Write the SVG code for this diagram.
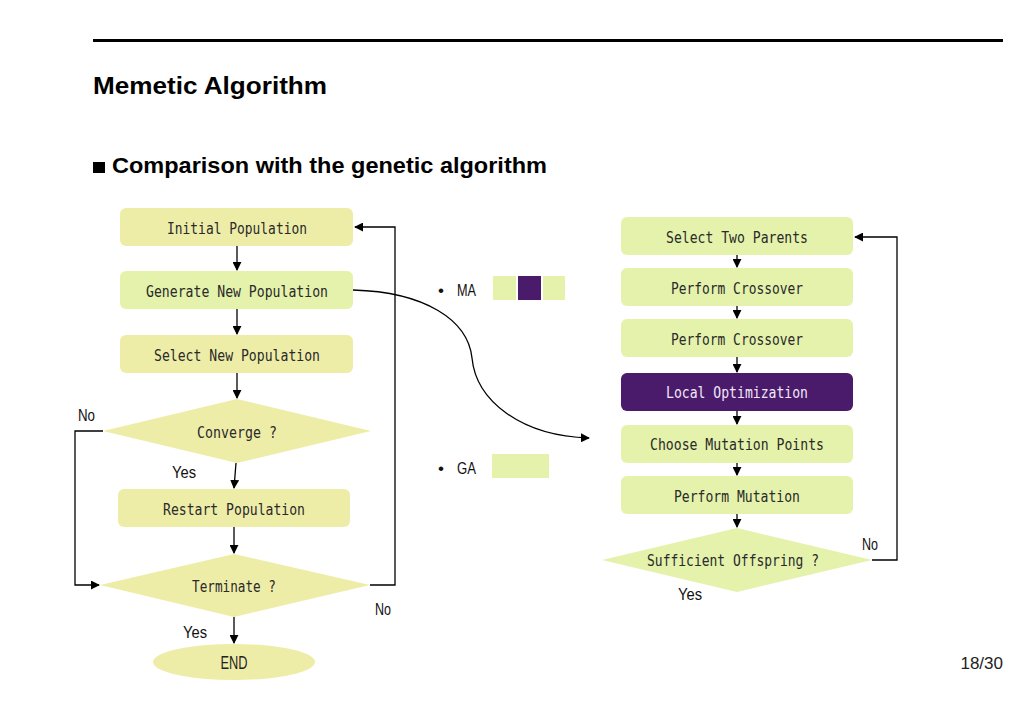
<svg xmlns="http://www.w3.org/2000/svg" width="1023" height="708" viewBox="0 0 1023 708">
<style>
.y{fill:#EEEDA8}
.g{fill:#E4F2AC}
.p{fill:#4A1A6B}
.t{font-family:"DejaVu Sans Mono","Liberation Mono",monospace;font-size:15.5px;fill:#2a2a2a;text-anchor:middle;dominant-baseline:central}
.l{font-family:"Liberation Sans",Arial,sans-serif;font-size:17px;fill:#111}
.c{fill:none;stroke:#000;stroke-width:1.3}
</style>
<defs>
<marker id="ah" viewBox="0 0 10 10" refX="9" refY="5" markerWidth="9" markerHeight="9" markerUnits="userSpaceOnUse" orient="auto">
<path d="M0,0 L10,5 L0,10 z" fill="#000"/>
</marker>
</defs>
<rect x="93" y="39" width="910" height="3" fill="#000"/>
<text x="93" y="94" font-family="Liberation Sans,Arial,sans-serif" font-size="24" font-weight="bold" fill="#000" textLength="234" lengthAdjust="spacingAndGlyphs">Memetic Algorithm</text>
<rect x="93" y="162" width="12" height="11" fill="#000"/>
<text x="112" y="173" font-family="Liberation Sans,Arial,sans-serif" font-size="22" font-weight="bold" fill="#000" textLength="435" lengthAdjust="spacingAndGlyphs">Comparison with the genetic algorithm</text>

<g id="n-initial"><rect class="y" x="120" y="208" width="233" height="38" rx="6"/><text class="t" x="237" y="229" textLength="140" lengthAdjust="spacingAndGlyphs">Initial Population</text></g>
<g id="n-generate"><rect class="g" x="120" y="271" width="233" height="38" rx="6"/><text class="t" x="237" y="292" textLength="182" lengthAdjust="spacingAndGlyphs">Generate New Population</text></g>
<g id="n-select"><rect class="y" x="120" y="335" width="233" height="38" rx="6"/><text class="t" x="237" y="356" textLength="166" lengthAdjust="spacingAndGlyphs">Select New Population</text></g>
<g id="n-converge"><polygon class="y" points="237,399 371,431 237,463 103,431"/><text class="t" x="237" y="433" textLength="80" lengthAdjust="spacingAndGlyphs">Converge ?</text></g>
<g id="n-restart"><rect class="y" x="118" y="489" width="232" height="38" rx="6"/><text class="t" x="234" y="510" textLength="142" lengthAdjust="spacingAndGlyphs">Restart Population</text></g>
<g id="n-terminate"><polygon class="y" points="234,554 370,585 234,617 100,585"/><text class="t" x="234" y="587" textLength="84" lengthAdjust="spacingAndGlyphs">Terminate ?</text></g>
<g id="n-end"><ellipse class="y" cx="234" cy="662" rx="81" ry="18"/><text x="234" y="663" font-family="Liberation Sans,Arial,sans-serif" font-size="18" fill="#222" text-anchor="middle" dominant-baseline="central" textLength="27" lengthAdjust="spacingAndGlyphs">END</text></g>

<g id="legend">
<text class="l" x="438" y="296">•</text><text class="l" x="457" y="296" textLength="19" lengthAdjust="spacingAndGlyphs">MA</text>
<rect class="g" x="493" y="276" width="23" height="24"/><rect class="p" x="518" y="276" width="23" height="24"/><rect class="g" x="543" y="276" width="22" height="24"/>
<text class="l" x="438" y="474">•</text><text class="l" x="457" y="474" textLength="19" lengthAdjust="spacingAndGlyphs">GA</text>
<rect class="g" x="492" y="454" width="57" height="24"/>
</g>

<g id="n-parents"><rect class="g" x="621" y="217" width="232" height="38" rx="6"/><text class="t" x="737" y="238" textLength="142" lengthAdjust="spacingAndGlyphs">Select Two Parents</text></g>
<g id="n-cross1"><rect class="g" x="621" y="268" width="232" height="38" rx="6"/><text class="t" x="737" y="289" textLength="132" lengthAdjust="spacingAndGlyphs">Perform Crossover</text></g>
<g id="n-cross2"><rect class="g" x="621" y="319" width="232" height="38" rx="6"/><text class="t" x="737" y="340" textLength="132" lengthAdjust="spacingAndGlyphs">Perform Crossover</text></g>
<g id="n-local"><rect class="p" x="621" y="373" width="232" height="38" rx="6"/><text class="t" x="737" y="393" textLength="142" lengthAdjust="spacingAndGlyphs" style="fill:#F0E8F8">Local Optimization</text></g>
<g id="n-choose"><rect class="g" x="621" y="425" width="232" height="38" rx="6"/><text class="t" x="737" y="445" textLength="174" lengthAdjust="spacingAndGlyphs">Choose Mutation Points</text></g>
<g id="n-mutation"><rect class="g" x="621" y="476" width="232" height="38" rx="6"/><text class="t" x="737" y="497" textLength="126" lengthAdjust="spacingAndGlyphs">Perform Mutation</text></g>
<g id="n-sufficient"><polygon class="g" points="737,528 872,560 737,592 602,560"/><text class="t" x="733" y="561" textLength="172" lengthAdjust="spacingAndGlyphs">Sufficient Offspring ?</text></g>

<g id="connectors">
<line class="c" x1="237" y1="246" x2="237" y2="270" marker-end="url(#ah)"/>
<line class="c" x1="237" y1="309" x2="237" y2="334" marker-end="url(#ah)"/>
<line class="c" x1="237" y1="373" x2="237" y2="398" marker-end="url(#ah)"/>
<line class="c" x1="236" y1="463" x2="234" y2="488" marker-end="url(#ah)"/>
<line class="c" x1="234" y1="527" x2="234" y2="553" marker-end="url(#ah)"/>
<line class="c" x1="234" y1="617" x2="234" y2="643" marker-end="url(#ah)"/>
<polyline class="c" points="103,431 75,431 75,585 99,585" marker-end="url(#ah)"/>
<polyline class="c" points="370,585 395,585 395,227 355,227" marker-end="url(#ah)"/>
<path class="c" d="M353,290 C425,292 468,320 472,358 C476,400 520,436 589,438" marker-end="url(#ah)"/>
<line class="c" x1="737" y1="255" x2="737" y2="267" marker-end="url(#ah)"/>
<line class="c" x1="737" y1="306" x2="737" y2="318" marker-end="url(#ah)"/>
<line class="c" x1="737" y1="357" x2="737" y2="372" marker-end="url(#ah)"/>
<line class="c" x1="737" y1="411" x2="737" y2="424" marker-end="url(#ah)"/>
<line class="c" x1="737" y1="463" x2="737" y2="475" marker-end="url(#ah)"/>
<line class="c" x1="737" y1="514" x2="737" y2="527" marker-end="url(#ah)"/>
<polyline class="c" points="872,560 897,560 897,237 855,237" marker-end="url(#ah)"/>
</g>

<g id="labels">
<text class="l" x="78" y="421" textLength="17" lengthAdjust="spacingAndGlyphs">No</text>
<text class="l" x="172" y="478" textLength="24" lengthAdjust="spacingAndGlyphs">Yes</text>
<text class="l" x="375" y="615" textLength="16" lengthAdjust="spacingAndGlyphs">No</text>
<text class="l" x="183" y="638" textLength="24" lengthAdjust="spacingAndGlyphs">Yes</text>
<text class="l" x="862" y="550" textLength="16" lengthAdjust="spacingAndGlyphs">No</text>
<text class="l" x="678" y="600" textLength="24" lengthAdjust="spacingAndGlyphs">Yes</text>
<text x="1003" y="669" font-family="Liberation Sans,Arial,sans-serif" font-size="17" fill="#222" text-anchor="end">18/30</text>
</g>
</svg>
